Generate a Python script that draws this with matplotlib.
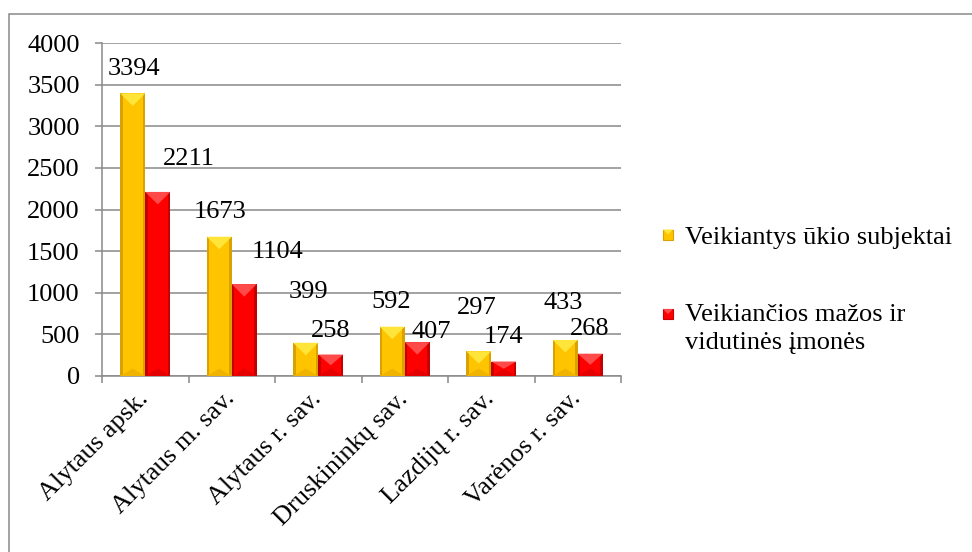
import matplotlib
matplotlib.use('Agg')
import matplotlib.pyplot as plt
import numpy as np
from matplotlib.patches import Polygon, Rectangle
from matplotlib.legend_handler import HandlerBase

# ---------------- data ----------------
categories = ["Alytaus apsk.", "Alytaus m. sav.", "Alytaus r. sav.",
              "Druskininkų sav.", "Lazdijų r. sav.", "Varėnos r. sav."]
subjects = [3394, 1673, 399, 592, 297, 433]
smes = [2211, 1104, 258, 407, 174, 268]
series_names = ["Veikiantys ūkio subjektai",
                "Veikiančios mažos ir\nvidutinės įmonės"]
yticks = [0, 500, 1000, 1500, 2000, 2500, 3000, 3500, 4000]

# label offsets (pixels): dx, baseline height above bar top
subj_off = [(1, 18), (0.5, 19), (2.5, 45), (-1, 19), (-2, 37), (-2, 31)]
sme_off = [(31, 27), (33, 26), (0, 18), (14, 4), (0, 19), (-1, 19)]

# ---------------- style ----------------
FONT = "Liberation Serif"
FS = 19
GRAY = "#898989"
YEL = dict(body="#FFC400", top="#FFE43A", side="#D9A200", bottom="#F0B400")
RED = dict(body="#FF0000", top="#FF4A4A", side="#C40000", bottom="#E40000")

W, H = 972, 552
fig = plt.figure(figsize=(W / 100, H / 100), dpi=100)
ax = fig.add_axes([102 / W, 1 - 376 / H, 519 / W, 333 / H])

x = np.arange(len(categories))
bw = 0.289
ax.set_xlim(-0.5, len(categories) - 0.5)
ax.set_ylim(0, 4000)

b1 = ax.bar(x - bw / 2, subjects, bw, color=YEL["body"], linewidth=0, zorder=3)
b2 = ax.bar(x + bw / 2, smes, bw, color=RED["body"], linewidth=0, zorder=3)

# pixel scale
p0 = ax.transData.transform((0, 0))
sx = ax.transData.transform((1, 0))[0] - p0[0]
sy = ax.transData.transform((0, 1))[1] - p0[1]


def bevel(patch, c):
    x0, y0 = patch.get_x(), patch.get_y()
    w, h = patch.get_width(), patch.get_height()
    wpx = w * sx
    e = 2.5 / sx
    d = (wpx / 2) / sy
    ax.add_patch(Rectangle((x0, y0), e, h, color=c["side"], lw=0, zorder=4))
    ax.add_patch(Rectangle((x0 + w - e, y0), e, h, color=c["side"], lw=0, zorder=4))
    ax.add_patch(Polygon([(x0, y0), (x0 + w, y0), (x0 + w / 2, y0 + min(d * 0.6, h / 2))],
                         closed=True, color=c["bottom"], lw=0, zorder=4))
    ax.add_patch(Polygon([(x0, y0 + h), (x0 + w, y0 + h), (x0 + w / 2, y0 + h - min(d, h / 2))],
                         closed=True, color=c["top"], lw=0, zorder=5))


for p in b1:
    bevel(p, YEL)
for p in b2:
    bevel(p, RED)

# data labels
for bars, vals, offs in ((b1, subjects, subj_off), (b2, smes, sme_off)):
    for p, v, (dx, dy) in zip(bars, vals, offs):
        ax.annotate(str(v), (p.get_x() + p.get_width() / 2, p.get_height()),
                    xytext=(dx * 0.72, dy * 0.72), textcoords="offset points",
                    ha="center", va="baseline", fontsize=FS, family=FONT,
                    zorder=6)

# axes styling
ax.set_yticks(yticks)
ax.set_yticklabels([str(t) for t in yticks], family=FONT, fontsize=FS)
ax.grid(axis="y", color=GRAY, linewidth=1.1, zorder=0)
ax.set_axisbelow(True)
for s in ("top", "right"):
    ax.spines[s].set_visible(False)
for s in ("left", "bottom"):
    ax.spines[s].set_color(GRAY)
    ax.spines[s].set_linewidth(1.1)
ax.tick_params(axis="y", direction="out", length=5, width=1.1, color=GRAY, pad=11)
ax.set_xticks(x)
ax.set_xticklabels(categories, rotation=45, ha="right", rotation_mode="anchor",
                   va="center", family=FONT, fontsize=FS)
ax.set_xticks(np.arange(len(categories) + 1) - 0.5, minor=True)
ax.tick_params(axis="x", which="major", length=0, pad=14)
ax.tick_params(axis="x", which="minor", direction="out", length=5, width=1.1, color=GRAY)


# legend with bevelled squares
class BevelHandler(HandlerBase):
    def __init__(self, c, lift=0.0):
        super().__init__()
        self.c = c
        self.lift = lift

    def create_artists(self, legend, orig_handle, xdescent, ydescent, width,
                       height, fontsize, trans):
        c = self.c
        s = min(width, height)
        x0 = -xdescent
        y0 = -ydescent + (height - s) / 2 + self.lift
        arts = [Rectangle((x0, y0), s, s, facecolor=c["body"], edgecolor=c["side"],
                          lw=0.8, transform=trans),
                Polygon([(x0, y0 + s), (x0 + s, y0 + s), (x0 + s / 2, y0 + s / 2)],
                        closed=True, color=c["top"], lw=0, transform=trans)]
        return arts


h1 = Rectangle((0, 0), 1, 1)
h2 = Rectangle((0, 0), 1, 1)
leg = fig.legend([h1, h2], series_names, loc="upper left",
                 bbox_to_anchor=(663 / W, 1 - 227 / H),
                 frameon=False, prop={"family": FONT, "size": FS},
                 handlelength=0.38, handleheight=0.38, handletextpad=0.45,
                 labelspacing=2.1, borderpad=0, borderaxespad=0,
                 handler_map={h1: BevelHandler(YEL), h2: BevelHandler(RED, lift=10)})
for t in leg.get_texts():
    t.set_linespacing(1.3)

# outer chart frame (cut off at right and bottom)
fig.patches.append(Rectangle((9 / W, -0.1), 1.2, 1 - 14 / H + 0.1,
                             transform=fig.transFigure, fill=False,
                             edgecolor=GRAY, linewidth=1.1))

fig.savefig("out.png", dpi=100)
